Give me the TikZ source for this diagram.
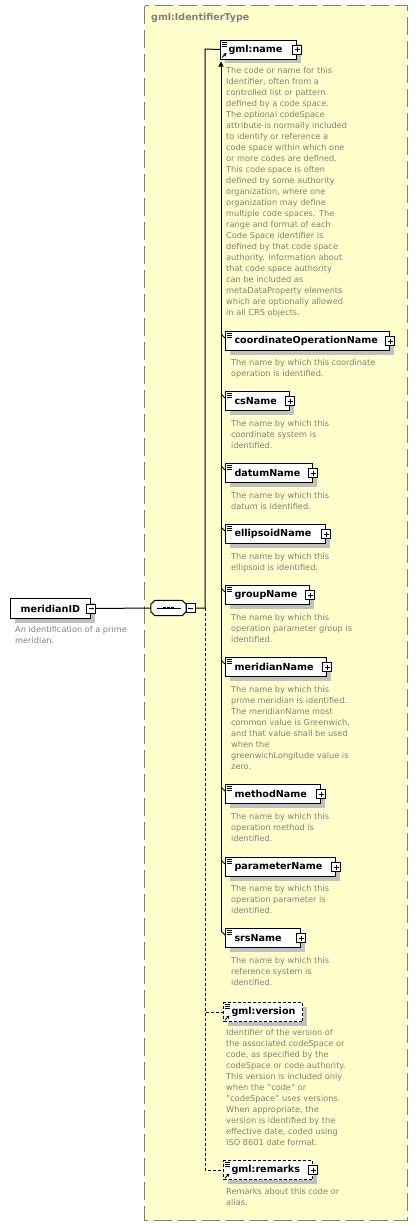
\documentclass[tikz,border=0pt]{standalone}
\usepackage{fontspec}
\setmainfont{DejaVu Sans}
\usetikzlibrary{shadows,calc,arrows.meta}
\definecolor{ybg}{RGB}{255,255,204}
\definecolor{framegray}{RGB}{128,128,128}
\definecolor{dgray}{RGB}{128,128,128}
\definecolor{shgray}{RGB}{192,192,192}
\newcommand\lblfont{\fontsize{9.6}{11}\selectfont\bfseries}
\newcommand\dscfont{\fontsize{8.2}{11}\selectfont}
\newcommand\sq{\symbol{34}}
\newcommand\docicon[1]{\foreach \dy in {2.5,4.5,6.5}{\draw[line width=0.7pt] ($(#1.north west)+(2,\dy)$) -- ++(5,0);}}
\newcommand\reficon[1]{\draw[line width=0.9pt,-{Stealth[length=3.5pt,width=3.5pt]}] ($(#1.south west)+(2,-2)$) -- ++(4.5,-4.5);}
\newcommand\subline[1]{\draw[conn] ($(#1.north west)+(-4,3)$) -- ($(#1.north west)+(0,7)$);}
\tikzset{
  x=1pt, y=-1pt,
  conn/.style={line width=1pt},
  optconn/.style={line width=1pt, dash pattern=on 3pt off 2pt},
  elem/.style={draw=black, line width=1pt, fill=white, anchor=north west,
    minimum height=19pt, inner xsep=0pt, inner ysep=0pt, align=left, font=\lblfont,
    general shadow={fill=shgray, shadow xshift=4pt, shadow yshift=-4pt}},
  optelem/.style={elem, dash pattern=on 3pt off 2pt},
  desc/.style={anchor=north west, inner sep=0pt, align=left, font=\dscfont, text=dgray},
  pmbox/.style={draw=black, line width=0.8pt, fill=white, minimum size=9pt, inner sep=0pt},
  plusbox/.style={pmbox, path picture={
    \draw[line width=0.8pt] ([xshift=2pt]path picture bounding box.west) -- ([xshift=-2pt]path picture bounding box.east)
      ([yshift=-2pt]path picture bounding box.north) -- ([yshift=2pt]path picture bounding box.south);}},
  minusbox/.style={pmbox, path picture={
    \draw[line width=0.8pt] ([xshift=2pt]path picture bounding box.west) -- ([xshift=-2pt]path picture bounding box.east);}},
}
\begin{document}
\begin{tikzpicture}
\useasboundingbox (0,0) rectangle (418,1226);
% type frame
\draw[fill=ybg, draw=framegray, line width=1.3pt, dash pattern=on 18pt off 6pt] (144.5,5.5) rectangle (407.5,1220.5);
\node[anchor=west, inner sep=0pt, font=\fontsize{9.5}{11}\selectfont\bfseries, text=framegray] (title) at (151,18) {gml:IdentifierType};

% root element
\node[elem, text width=80pt, minimum height=20pt] (mid) at (10,598) {\hspace*{10pt}meridianID};
\node[minusbox] (midm) at (mid.east) {};
\node[desc] (dmid) at (15,626.5) {An identification of a prime\\meridian.};

% sequence compositor
\node[minimum width=35pt, minimum height=15pt, inner sep=0pt] (seq) at (168.5,608) {};
\begin{scope}[shift={(4pt,-4pt)}]
\fill[shgray] ([xshift=4pt]seq.north west) -- ([xshift=-4pt]seq.north east) -- ([yshift=-4pt]seq.north east) -- ([yshift=4pt]seq.south east) -- ([xshift=-4pt]seq.south east) -- ([xshift=4pt]seq.south west) -- ([yshift=4pt]seq.south west) -- ([yshift=-4pt]seq.north west) -- cycle;
\end{scope}
\draw[line width=1pt, fill=white] ([xshift=4pt]seq.north west) -- ([xshift=-4pt]seq.north east) -- ([yshift=-4pt]seq.north east) -- ([yshift=4pt]seq.south east) -- ([xshift=-4pt]seq.south east) -- ([xshift=4pt]seq.south west) -- ([yshift=4pt]seq.south west) -- ([yshift=-4pt]seq.north west) -- cycle;
\draw[line width=1pt] ($(seq.west)+(6,0)$) -- ($(seq.east)+(-5,0)$);
\foreach \dx in {-4,0,4}{\fill ($(seq.center)+(\dx-1.3,-1.3)$) rectangle ++(2.6,2.6);}
\node[minusbox] (seqm) at (190.5,608) {};

% children
\node[elem, text width=76pt] (name) at (220,39.5) {\hspace*{8pt}gml:name};
\node[plusbox] at (name.east) {};
\node[desc] (dname) at (226,67.5) {The code or name for this\\Identifier, often from a\\controlled list or pattern\\defined by a code space.\\The optional codeSpace\\attribute is normally included\\to identify or reference a\\code space within which one\\or more codes are defined.\\This code space is often\\defined by some authority\\organization, where one\\organization may define\\multiple code spaces. The\\range and format of each\\Code Space identifier is\\defined by that code space\\authority. Information about\\that code space authority\\can be included as\\metaDataProperty elements\\which are optionally allowed\\in all CRS objects.};

\node[elem, text width=164pt] (coop) at (225,331) {\hspace*{9pt}coordinateOperationName};
\node[plusbox] at (coop.east) {};
\node[desc] (dcoop) at (231,359.5) {The name by which this coordinate\\operation is identified.};

\node[elem, text width=64pt] (cs) at (225,391) {\hspace*{9pt}csName};
\node[plusbox] at (cs.east) {};
\node[desc] (dcs) at (231,420.5) {The name by which this\\coordinate system is\\identified.};

\node[elem, text width=87pt] (datum) at (225,463) {\hspace*{9pt}datumName};
\node[plusbox] at (datum.east) {};
\node[desc] (ddatum) at (231,492.5) {The name by which this\\datum is identified.};

\node[elem, text width=100pt] (ell) at (225,524) {\hspace*{9pt}ellipsoidName};
\node[plusbox] at (ell.east) {};
\node[desc] (dell) at (231,553.5) {The name by which this\\ellipsoid is identified.};

\node[elem, text width=84pt] (group) at (225,585) {\hspace*{9pt}groupName};
\node[plusbox] at (group.east) {};
\node[desc] (dgroup) at (231,614.5) {The name by which this\\operation parameter group is\\identified.};

\node[elem, text width=101pt] (mer) at (225,657) {\hspace*{9pt}meridianName};
\node[plusbox] at (mer.east) {};
\node[desc] (dmer) at (231,686.5) {The name by which this\\prime meridian is identified.\\The meridianName most\\common value is Greenwich,\\and that value shall be used\\when the\\greenwichLongitude value is\\zero.};

\node[elem, text width=95pt] (meth) at (225,784) {\hspace*{9pt}methodName};
\node[plusbox] at (meth.east) {};
\node[desc] (dmeth) at (231,813.5) {The name by which this\\operation method is\\identified.};

\node[elem, text width=110pt] (par) at (225,857) {\hspace*{9pt}parameterName};
\node[plusbox] at (par.east) {};
\node[desc] (dpar) at (231,885.5) {The name by which this\\operation parameter is\\identified.};

\node[elem, text width=75pt] (srs) at (225,928) {\hspace*{9pt}srsName};
\node[plusbox] at (srs.east) {};
\node[desc] (dsrs) at (231,957.5) {The name by which this\\reference system is\\identified.};

\node[optelem, text width=79pt] (ver) at (223,1002) {\hspace*{8pt}gml:version};
\node[desc] (dver) at (226,1029.5) {Identifier of the version of\\the associated codeSpace or\\code, as specified by the\\codeSpace or code authority.\\This version is included only\\when the \sq code\sq{} or\\\sq codeSpace\sq{} uses versions.\\When appropriate, the\\version is identified by the\\effective date, coded using\\ISO 8601 date format.};

\node[optelem, text width=89pt] (rem) at (223,1160) {\hspace*{8pt}gml:remarks};
\node[plusbox] at (rem.east) {};
\node[desc] (drem) at (226,1188.5) {Remarks about this code or\\alias.};

% icons
\foreach \n in {name,coop,cs,datum,ell,group,mer,meth,par,srs,ver,rem}{\docicon{\n}}
\foreach \n in {name,ver,rem}{\reficon{\n}}

% connectors
\coordinate (busname) at (205,49);
\coordinate (busmid) at (205,608);
\draw[conn] (midm.east) -- (seq.west);
\draw[conn] (seqm.east) -- (busmid) -- (busname) -- (name.west);
\draw[optconn] (busmid) |- (ver.west);
\draw[optconn] (busmid) |- (rem.west);
\draw[conn, -{Triangle[length=5pt,width=5pt]}] ($(srs.north west)+(-4,3)$) -- ($(name.south west)+(1,2)$);
\foreach \n in {coop,cs,datum,ell,group,mer,meth,par,srs}{\subline{\n}}
\end{tikzpicture}
\end{document}
